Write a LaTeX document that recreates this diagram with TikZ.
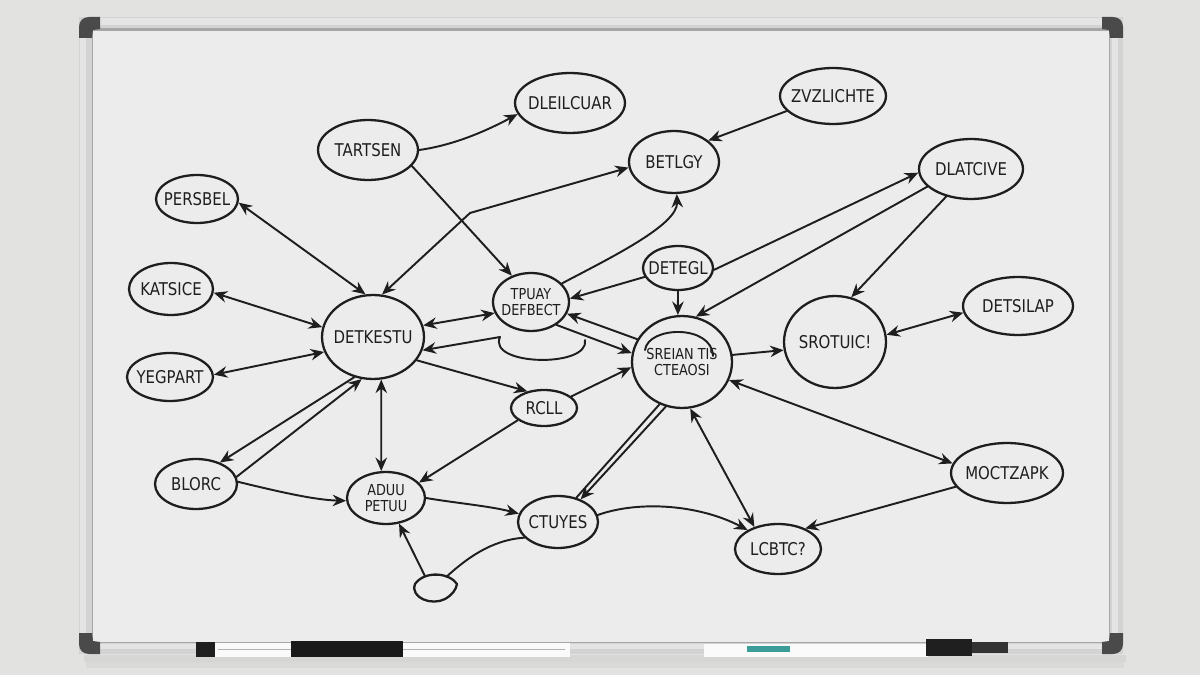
\documentclass[tikz,border=0pt]{standalone}
\usepackage{fontspec}
\setmainfont{DejaVu Sans}[FakeStretch=0.85]
\usetikzlibrary{shapes.geometric,arrows.meta}
\definecolor{ink}{HTML}{1E1E1E}
\definecolor{wallc}{HTML}{E2E2E0}
\definecolor{boardc}{HTML}{ECECEC}
\definecolor{framec}{HTML}{D3D3D3}
\definecolor{framehi}{HTML}{E4E4E4}
\definecolor{framesh}{HTML}{A6A6A6}
\definecolor{capc}{HTML}{4A4A4A}
\definecolor{tealc}{HTML}{3C9C98}
\newcommand\bubble[6]{%
  \node[bub,minimum width=#4*0.04cm,minimum height=#5*0.04cm] (#1) at (#2,#3) {};
  \node[txt] (#1t) at (#1) {#6};}
\newcommand\smalltxt{\fontsize{8.6}{8.4}\selectfont}
\begin{document}
\begin{tikzpicture}[x=0.02cm,y=-0.02cm,line join=round,line cap=round,
  >={Stealth[length=2.7mm,width=2.3mm,inset=0.9mm]},
  bub/.style={ellipse,draw=ink,line width=1.3pt,inner sep=0pt},
  txt/.style={text=ink,font=\fontsize{10}{9}\selectfont,align=center,inner sep=0pt},
  con/.style={draw=ink,line width=1.1pt}]
\useasboundingbox (0,0) rectangle (1200,675);
% wall
\fill[wallc] (0,0) rectangle (1200,675);
\fill[black,opacity=0.05] (84,655) rectangle (1126,662);
\fill[black,opacity=0.04] (86,662) rectangle (1124,668);
% frame
\fill[framec] (79,17) rectangle (1123,654);
\fill[framehi] (92,18) rectangle (1110,25);
\fill[framehi] (80,30) rectangle (86,642);
\fill[framehi] (1112,30) rectangle (1118,642);
\fill[boardc] (92,30) rectangle (1110,642);
\draw[framesh,line width=1.2pt] (92,29.5) -- (1110,29.5);
\draw[framesh,line width=1pt] (92.5,30) -- (92.5,642);
\draw[framesh,line width=0.8pt] (1109.5,30) -- (1109.5,642);
\fill[framehi] (92,644) rectangle (1110,649);
\draw[framesh,line width=0.6pt] (92,642.5) -- (1110,642.5);
% corner caps
\fill[capc] (79,38) -- (79,27) .. controls (79,21) and (83,17) .. (89,17) -- (100,17) -- (100,29) -- (93,30) -- (92,38) -- cycle;
\fill[capc] (1123,38) -- (1123,27) .. controls (1123,21) and (1119,17) .. (1113,17) -- (1102,17) -- (1102,29) -- (1109,30) -- (1110,38) -- cycle;
\fill[capc] (79,633) -- (79,644) .. controls (79,650) and (83,654) .. (89,654) -- (100,654) -- (100,642) -- (93,641) -- (92,633) -- cycle;
\fill[capc] (1123,633) -- (1123,644) .. controls (1123,650) and (1119,654) .. (1113,654) -- (1102,654) -- (1102,642) -- (1109,641) -- (1110,633) -- cycle;
% markers
\fill[black!88] (196,642) rectangle (215,657);
\fill[white!96!gray] (215,643) rectangle (570,657);
\draw[gray!60,line width=0.4pt] (218,649) -- (565,649);
\fill[black!90] (291,641) rectangle (403,657);
\fill[white!96!gray] (704,644) rectangle (928,657);
\fill[tealc] (747,646) rectangle (790,652);
\fill[black!88] (926,639) rectangle (972,656);
\fill[black!80] (972,642) rectangle (1008,653);
% nodes
\bubble{T}{368}{150}{50}{30}{TARTSEN}
\bubble{DA}{570}{103}{55}{30}{DLEILCUAR}
\bubble{Z}{833}{96}{53}{28}{ZVZLICHTE}
\bubble{B}{674}{162}{45}{31}{BETLGY}
\bubble{DL}{971}{169}{52}{30}{DLATCIVE}
\bubble{P}{197}{199}{41}{24}{PERSBEL}
\bubble{K}{171}{289}{42}{26}{KATSICE}
\bubble{DK}{373}{337}{51}{42}{DETKESTU}
\bubble{Y}{170}{377}{43}{24}{YEGPART}
\bubble{TP}{531}{302}{38}{29}{\smalltxt TPUAY\\\smalltxt DEFBECT}
\bubble{DE}{678}{268}{35}{22}{DETEGL}
\bubble{SR}{682}{362}{50}{46}{\smalltxt SREIAN TIS\\\smalltxt CTEAOSI}
\bubble{S}{835}{342}{51}{46}{SROTUIC!}
\bubble{DS}{1018}{306}{55}{29}{DETSILAP}
\bubble{R}{544}{408}{33}{18}{RCLL}
\bubble{BL}{196}{484}{41}{25}{BLORC}
\bubble{A}{386}{498}{39}{26}{\smalltxt ADUU\\\smalltxt PETUU}
\bubble{C}{558}{522}{40}{26}{CTUYES}
\bubble{L}{778}{549}{43}{25}{LCBTC?}
\bubble{M}{1007}{473}{56}{30}{MOCTZAPK}
% blob
\node[ellipse,inner sep=0pt,minimum width=0.86cm,minimum height=0.56cm] (blob) at (435,589) {};
\draw[ink,line width=1.3pt] (457,584) .. controls (450,573) and (425,570) .. (415,584)
  .. controls (410,598) and (432,606) .. (445,599) .. controls (452,595) and (456,590) .. (457,584);
% loop and arc
\coordinate (k1) at (470,213);
\coordinate (k2) at (500,337);
\coordinate (k3) at (585,340);
\draw[con] (645,350) .. controls (648,326) and (712,324) .. (713,356);
% connectors
\draw[con,->] (T.0) .. controls (455,145) and (488,130) .. (DA.192);
\draw[con,->] (T.-20) -- (TP.126);
\draw[con,<->] (DK.78) -- (k1) -- (B.187);
\draw[con,->] (Z.198) -- (B.32);
\draw[con,->] (TP.31) .. controls (610,258) and (678,225) .. (B.-85);
\draw[con,->] (DE.195) -- (TP.5);
\draw[con,->] (DE.-90) -- (SR.95);
\draw[con,->] (DE.-3) -- (DL.184);
\draw[con,->] (DL.202) -- (SR.73);
\draw[con,->] (DL.228) -- (S.70);
\draw[con,<->] (S.8) -- (DS.187);
\draw[con,->] (SR.8) -- (S.189);
\draw[con,<->] (P.-5) -- (DK.100);
\draw[con,<->] (K.-5) -- (DK.169);
\draw[con,<->] (Y.3) -- (DK.197);
\draw[con,<->] (DK.13) -- (TP.197);
\draw[con,<-] (DK.-15) -- (k2) .. controls (487,366) and (590,368) .. (k3);
\draw[con,->] (DK.-28) -- (R.135);
\draw[con,->] (R.23) -- (SR.186);
\draw[con,->] (TP.-42) -- (SR.170);
\draw[con,->] (SR.153) -- (TP.-18);
\draw[con,<->] (DK.-79) -- (A.100);
\draw[con,->] (DK.245) -- (BL.42);
\draw[con,->] (BL.10) -- (DK.255);
\draw[con,->] (BL.3) .. controls (280,492) and (315,500) .. (A.184);
\draw[con,->] (R.205) -- (A.25);
\draw[con,->] (A.0) .. controls (455,503) and (490,506) .. (C.168);
\draw[con,->] (blob.128) -- (A.-63);
\draw[con] (blob.47) .. controls (465,560) and (490,540) .. (C.205);
\draw[con,->] (SR.250) -- (C.45);
\draw[con] (SR.242) -- (C.53);
\draw[con,<->] (SR.-80) -- (L.137);
\draw[con,<->] (SR.-21) -- (M.170);
\draw[con,->] (C.10) .. controls (640,500) and (700,505) .. (L.148);
\draw[con,->] (M.195) -- (L.37);
\end{tikzpicture}
\end{document}
